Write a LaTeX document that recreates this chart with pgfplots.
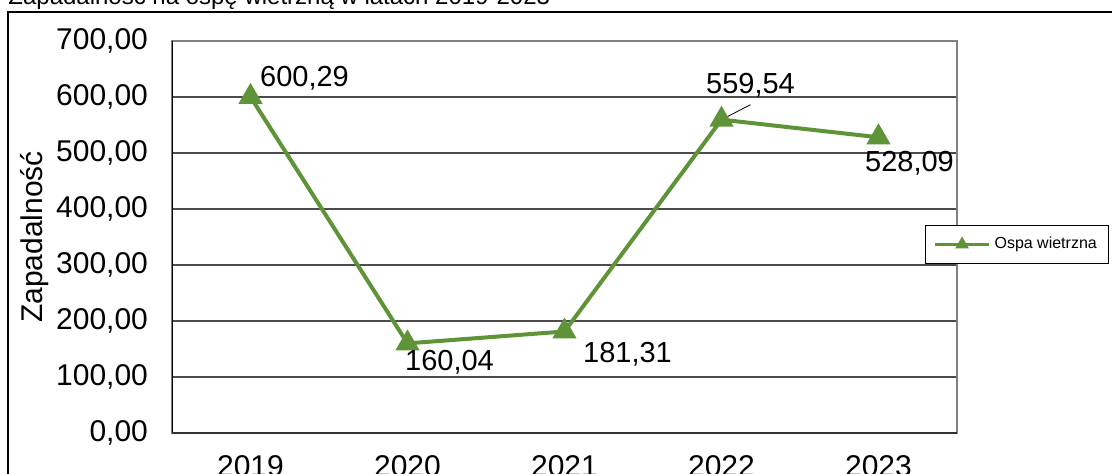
\documentclass[border=0pt]{standalone}
\usepackage{pgfplots}
\pgfplotsset{compat=1.18}
\usepackage{fontspec}
\setmainfont{Liberation Sans}
\definecolor{ospa}{RGB}{94,147,55}
\begin{document}
\begin{tikzpicture}
  % outer chart frame (cut by the page edge, like the reference)
  \draw[black, line width=0.8pt] (4pt,-20pt) -- (4pt,230.5pt) -- (580pt,230.5pt);
  \node[anchor=base west, inner sep=0pt, font=\fontsize{12}{14}\selectfont]
    at (4pt,234.2pt) {Zapadalność na ospę wietrzną w latach 2019-2023};
  \begin{axis}[
    at={(86pt,20pt)}, anchor=south west,
    scale only axis,
    width=392.5pt, height=196pt,
    xmin=-0.5, xmax=4.5,
    ymin=0, ymax=700,
    xtick={0,1,2,3,4},
    xticklabels={2019,2020,2021,2022,2023},
    ytick={0,100,...,700},
    major tick length=0pt,
    ymajorgrids=true,
    grid style={draw=black!70, line width=0.6pt},
    axis line style={draw=black!50, line width=1.2pt},
    /pgf/number format/assume math mode=true,
    yticklabel={\pgfmathprintnumber[fixed, fixed zerofill, precision=2, use comma]{\tick}},
    ticklabel style={font=\fontsize{15}{18}\selectfont},
    yticklabel style={anchor=east, xshift=-8.5pt},
    xticklabel style={anchor=base, yshift=-21.5pt},
    ylabel={Zapadalność},
    ylabel style={at={(axis description cs:-0.1745,0.5)}, anchor=center, font=\fontsize{15}{18}\selectfont},
    legend style={at={(axis description cs:0.9592,0.4809)}, anchor=west,
      draw=black, line width=0.6pt, font=\fontsize{8}{10}\selectfont,
      inner xsep=4pt, inner ysep=4pt},
    legend image code/.code={
      \draw[#1, mark=none, line width=1.5pt] (0pt,0pt) -- (27pt,0pt);
      \draw[#1, mark size=2pt] plot coordinates {(13.5pt,0pt)};
    },
  ]
  \addplot[ospa, line width=2pt, mark=triangle*, mark size=5pt,
    mark options={solid, fill=ospa}] coordinates {
    (0, 600.29)
    (1, 160.04)
    (2, 181.31)
    (3, 559.54)
    (4, 528.09)
  };
  \addlegendentry{Ospa wietrzna}

  % data labels, shifted off each point as in the reference
  \addplot[draw=none, mark=none, forget plot,
    nodes near coords={\pgfmathprintnumber[fixed, fixed zerofill, precision=2, use comma]{\pgfplotspointmeta}},
    point meta=y,
    visualization depends on={\thisrow{dx} \as \dx},
    visualization depends on={\thisrow{dy} \as \dy},
    every node near coord/.append style={anchor=center, xshift=\dx pt, yshift=\dy pt,
      text=black, font=\fontsize{14.5}{17}\selectfont, inner sep=0pt},
  ] table {
    x y dx dy
    0 600.29 27 9.5
    1 160.04 21 -9.5
    2 181.31 31.5 -11.5
    3 559.54 14.5 17
    4 528.09 15.5 -13
  };

  \draw[black, line width=0.8pt] (rel axis cs:0,0) -- (rel axis cs:0,1);
  \draw[black!80, line width=0.8pt] (rel axis cs:0,0) -- (rel axis cs:1,0);
  \draw[black, line width=0.4pt] (axis cs:3,559.54) ++(1pt,0.5pt) -- ++(13.5pt,7pt);
  \end{axis}
  \pgfresetboundingbox
  \useasboundingbox (0pt,0pt) rectangle (556pt,236.5pt);
\end{tikzpicture}
\end{document}
